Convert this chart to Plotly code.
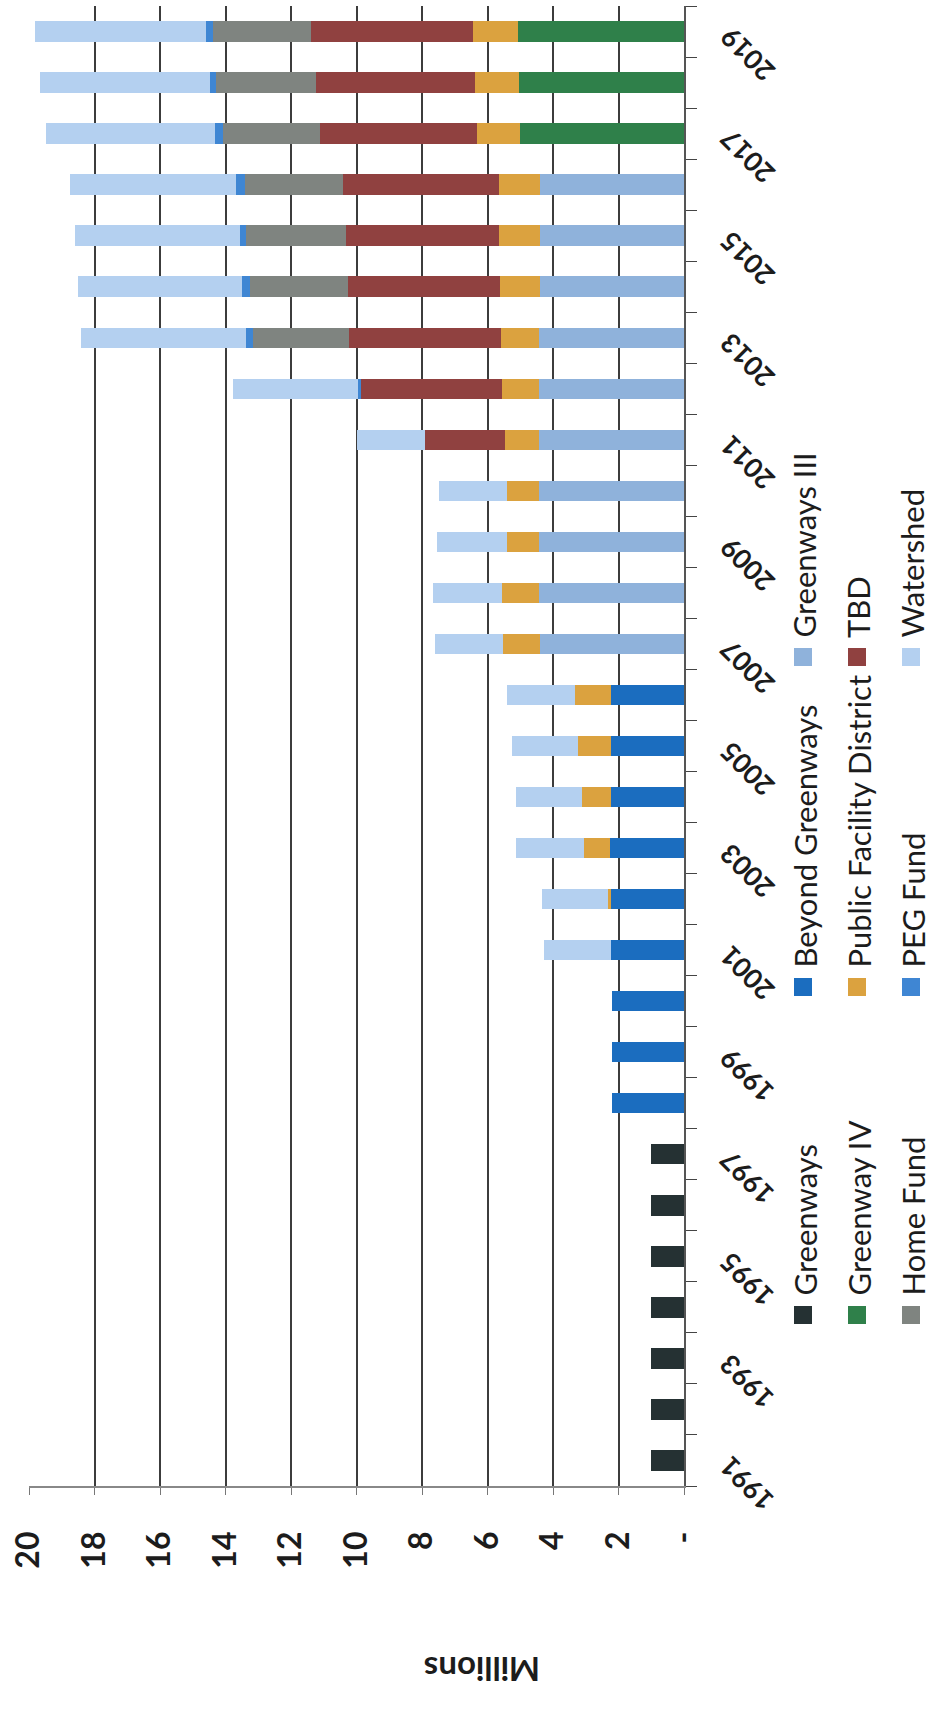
import plotly.graph_objects as go

# ---- data (millions of dollars per year) ----
years = [str(y) for y in range(1991, 2020)]

greenways = [1.00, 1.00, 1.00, 1.00, 1.00, 1.00, 1.00, 0, 0, 0, 0, 0, 0, 0, 0,
             0, 0, 0, 0, 0, 0, 0, 0, 0, 0, 0, 0, 0, 0]
beyond_greenways = [0, 0, 0, 0, 0, 0, 0, 2.21, 2.21, 2.21, 2.23, 2.23, 2.25, 2.23, 2.23,
                    2.23, 0, 0, 0, 0, 0, 0, 0, 0, 0, 0, 0, 0, 0]
greenways_iii = [0, 0, 0, 0, 0, 0, 0, 0, 0, 0, 0, 0, 0, 0, 0,
                 0, 4.40, 4.42, 4.42, 4.42, 4.42, 4.42, 4.42, 4.40, 4.40, 4.40, 0, 0, 0]
greenway_iv = [0, 0, 0, 0, 0, 0, 0, 0, 0, 0, 0, 0, 0, 0, 0,
               0, 0, 0, 0, 0, 0, 0, 0, 0, 0, 0, 5.00, 5.05, 5.08]
public_facility_district = [0, 0, 0, 0, 0, 0, 0, 0, 0, 0, 0, 0.10, 0.80, 0.89, 1.00,
                            1.11, 1.14, 1.14, 0.98, 1.00, 1.05, 1.14, 1.18, 1.21, 1.25, 1.26, 1.32, 1.34, 1.37]
tbd = [0, 0, 0, 0, 0, 0, 0, 0, 0, 0, 0, 0, 0, 0, 0,
       0, 0, 0, 0, 0, 2.45, 4.29, 4.63, 4.65, 4.68, 4.75, 4.80, 4.86, 4.93]
home_fund = [0, 0, 0, 0, 0, 0, 0, 0, 0, 0, 0, 0, 0, 0, 0,
             0, 0, 0, 0, 0, 0, 0, 2.93, 3.00, 3.03, 3.00, 2.97, 3.05, 3.00]
peg_fund = [0, 0, 0, 0, 0, 0, 0, 0, 0, 0, 0, 0, 0, 0, 0,
            0, 0, 0, 0, 0, 0, 0.10, 0.20, 0.24, 0.21, 0.26, 0.24, 0.16, 0.23]
watershed = [0, 0, 0, 0, 0, 0, 0, 0, 0, 0, 2.03, 2.02, 2.08, 2.01, 2.02,
             2.08, 2.06, 2.10, 2.13, 2.06, 2.08, 3.82, 5.04, 5.00, 5.03, 5.09, 5.16, 5.21, 5.22]

series_names = ["Greenways", "Beyond Greenways", "Greenways III", "Greenway IV",
                "Public Facility District", "TBD", "Home Fund", "PEG Fund", "Watershed"]
series_values = [greenways, beyond_greenways, greenways_iii, greenway_iv,
                 public_facility_district, tbd, home_fund, peg_fund, watershed]
series_colors = ["#253133", "#1b6dbf", "#8fb2db", "#2f804a",
                 "#dba23f", "#904140", "#7f8480", "#3f86d3", "#b4d0f0"]

value_ticks = [0, 2, 4, 6, 8, 10, 12, 14, 16, 18, 20]
value_tick_text = ["-", "2", "4", "6", "8", "10", "12", "14", "16", "18", "20"]
year_labels = [str(y) for y in range(1991, 2020, 2)]

# ---- page geometry (pixels) ----
W, H = 932, 1711
PL, PR, PT, PB = 29, 684, 6, 1486  # plot area edges


def px_x(px):
    return (px - PL) / (PR - PL)


def px_y(py):
    return (PB - py) / (PB - PT)


FONT = "Lato, 'Open Sans', sans-serif"
INK = "#1c1c1c"

fig = go.Figure()
for name, vals, color in zip(series_names, series_values, series_colors):
    fig.add_trace(go.Bar(
        y=years, x=vals, name=name, orientation="h",
        marker=dict(color=color, line=dict(width=0)),
    ))

fig.update_layout(
    width=W, height=H,
    barmode="stack", bargap=0.6,
    showlegend=False,
    paper_bgcolor="white", plot_bgcolor="white",
    margin=dict(l=PL, r=W - PR, t=PT, b=H - PB, pad=0),
    font=dict(family=FONT, color=INK),
)

fig.update_xaxes(
    range=[20, 0], tickvals=value_ticks, ticktext=value_tick_text,
    tickangle=-90, tickfont=dict(size=32, family=FONT, color=INK, weight="bold"),
    ticks="outside", ticklen=7, tickcolor="#777", ticklabelstandoff=24,
    showgrid=True, gridcolor="#3c3c3c", gridwidth=1.6,
    showline=True, linecolor="#888", linewidth=1.5,
    zeroline=False,
)
fig.update_yaxes(
    type="category", categoryorder="array", categoryarray=years,
    range=[-0.5, len(years) - 0.5], autorange=False,
    side="right", showticklabels=False,
    ticks="outside", tickson="boundaries", ticklen=11, tickcolor="#444",
    showline=True, linecolor="#555", linewidth=1.5,
    showgrid=False, zeroline=False,
)

annotations = []

# year labels on the category axis, every other year
for yl in year_labels:
    annotations.append(dict(
        xref="paper", yref="y", x=1, y=years.index(yl), xshift=63, yshift=-23.5,
        text=yl, showarrow=False, textangle=-135,
        xanchor="center", yanchor="middle",
        font=dict(size=27, family=FONT, color=INK, weight="bold"),
    ))

# value axis title
annotations.append(dict(
    xref="paper", yref="paper", x=px_x(482), y=px_y(1670),
    text="Millions", showarrow=False, textangle=180,
    xanchor="center", yanchor="middle",
    font=dict(size=33, family=FONT, color=INK, weight="bold"),
))

# legend, laid out in three rotated columns
legend_cols_px = [803, 857, 911]
legend_rows_px = [1315, 987, 657]
SW = 18
shapes = []
for i, (name, color) in enumerate(zip(series_names, series_colors)):
    cx = legend_cols_px[i // 3]
    cy = legend_rows_px[i % 3]
    shapes.append(dict(
        type="rect", xref="paper", yref="paper",
        x0=px_x(cx - SW / 2), x1=px_x(cx + SW / 2),
        y0=px_y(cy + SW / 2), y1=px_y(cy - SW / 2),
        fillcolor=color, line=dict(width=0), layer="above",
    ))
    annotations.append(dict(
        xref="paper", yref="paper", x=px_x(cx + 1), y=px_y(cy - SW / 2 - 8),
        text=name, showarrow=False, textangle=-90,
        xanchor="center", yanchor="bottom",
        font=dict(size=31, family=FONT, color=INK),
    ))

fig.update_layout(annotations=annotations, shapes=shapes)

fig.write_html("out.html")
